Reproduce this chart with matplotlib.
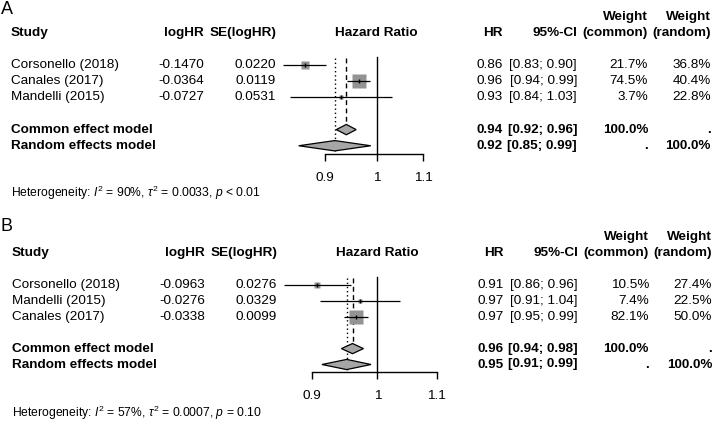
import numpy as np
import matplotlib
matplotlib.use("Agg")
import matplotlib.pyplot as plt
from matplotlib import transforms
from matplotlib.ticker import FixedLocator, FixedFormatter, NullLocator

plt.rcParams['font.family'] = ['Liberation Sans', 'DejaVu Sans']
plt.rcParams['mathtext.fontset'] = 'custom'
plt.rcParams['mathtext.rm'] = 'Liberation Sans'
plt.rcParams['mathtext.it'] = 'Liberation Sans:italic'
plt.rcParams['mathtext.bf'] = 'Liberation Sans:bold'

# ---------------- data ----------------
A_studies = ["Corsonello (2018)", "Canales (2017)", "Mandelli (2015)"]
A_loghr = [-0.1470, -0.0364, -0.0727]
A_se = [0.0220, 0.0119, 0.0531]
A_hr_lbl = ["0.86", "0.96", "0.93"]
A_ci_lbl = ["[0.83; 0.90]", "[0.94; 0.99]", "[0.84; 1.03]"]
A_wc = [21.7, 74.5, 3.7]
A_wr = [36.8, 40.4, 22.8]
A_common = [0.940, 0.921, 0.959]
A_random = [0.918, 0.853, 0.988]
A_common_lbl = ["0.94", "[0.92; 0.96]"]
A_random_lbl = ["0.92", "[0.85; 0.99]"]
A_het = r"Heterogeneity: $I^2$ = 90%, $\tau^2$ = 0.0033, $p$ < 0.01"

B_studies = ["Corsonello (2018)", "Mandelli (2015)", "Canales (2017)"]
B_loghr = [-0.0963, -0.0276, -0.0338]
B_se = [0.0276, 0.0329, 0.0099]
B_hr_lbl = ["0.91", "0.97", "0.97"]
B_ci_lbl = ["[0.86; 0.96]", "[0.91; 1.04]", "[0.95; 0.99]"]
B_wc = [10.5, 7.4, 82.1]
B_wr = [27.4, 22.5, 50.0]
B_common = [0.961, 0.944, 0.978]
B_random = [0.952, 0.915, 0.990]
B_common_lbl = ["0.96", "[0.94; 0.98]"]
B_random_lbl = ["0.95", "[0.91; 0.99]"]
B_het = r"Heterogeneity: $I^2$ = 57%, $\tau^2$ = 0.0007, $p$ = 0.10"

ticks = [0.9, 1.0, 1.1]
tick_labels = ["0.9", "1", "1.1"]

W, H = 716, 425
fig = plt.figure(figsize=(W / 100, H / 100), dpi=100)

FS = 9.7
SQ_COL = "#939393"
DIA_COL = "#a6a6a6"


def panel(letter, letter_y, studies, loghr, se, hr_lbl, ci_lbl, wc, wr,
          common, random, common_lbl, random_lbl, het,
          row0, spacing, ax_left, ax_width, xlim, het_y, dx):
    y_bottom = 5.48
    y_top = -0.55
    top_px = row0 + y_top * spacing
    bot_px = row0 + y_bottom * spacing
    ax = fig.add_axes([ax_left / W, 1 - bot_px / H, ax_width / W, (bot_px - top_px) / H])
    ax.set_xscale('log')
    ax.set_xlim(*xlim)
    ax.set_ylim(y_bottom, y_top)
    for s in ['top', 'right', 'left']:
        ax.spines[s].set_visible(False)
    ax.spines['bottom'].set_bounds(ticks[0], ticks[-1])
    ax.spines['bottom'].set_linewidth(1.0)
    ax.patch.set_alpha(0)
    ax.xaxis.set_major_locator(FixedLocator(ticks))
    ax.xaxis.set_major_formatter(FixedFormatter(tick_labels))
    ax.xaxis.set_minor_locator(NullLocator())
    ax.tick_params(axis='x', direction='out', length=5.2, width=1.0, pad=8.0, labelsize=FS)
    ax.set_yticks([])

    ys = np.arange(len(studies))
    lo = np.exp(np.array(loghr) - 1.96 * np.array(se))
    hi = np.exp(np.array(loghr) + 1.96 * np.array(se))
    est = np.exp(np.array(loghr))
    for i in range(len(studies)):
        side_pt = 1.56 * np.sqrt(wc[i]) * 0.72
        ax.plot([est[i]], [ys[i]], marker='s', ms=side_pt, color=SQ_COL, mec='none', zorder=2)
        ax.plot([lo[i], hi[i]], [ys[i], ys[i]], color='black', lw=0.9, zorder=3, solid_capstyle='butt')
        ax.plot([est[i]], [ys[i]], marker='|', ms=3.0, mew=1.0, color='black', zorder=4)

    yc, yr = 4, 5
    h = 0.32
    # reference lines
    ax.plot([1, 1], [-0.52, y_bottom], color='black', lw=1.0, zorder=1, clip_on=False)
    ax.plot([common[0], common[0]], [-0.45, yc - h], color='black', lw=1.0,
            ls=(0, (3.5, 2.5)), zorder=1, clip_on=False)
    ax.plot([random[0], random[0]], [-0.45, y_bottom - 0.15], color='black', lw=1.0,
            ls=(0, (1, 2)), zorder=1, clip_on=False)
    # diamonds
    ax.fill([common[1], common[0], common[2], common[0]], [yc, yc - h, yc, yc + h],
            facecolor=DIA_COL, edgecolor='black', lw=0.9, zorder=5)
    ax.fill([random[1], random[0], random[2], random[0]], [yr, yr - h, yr, yr + h],
            facecolor=DIA_COL, edgecolor='black', lw=0.9, zorder=5)

    tr = transforms.blended_transform_factory(fig.transFigure, ax.transData)

    def T(x, y, s, ha='right', bold=False, va='center'):
        fig.text((x + dx) / W, y, s, transform=tr, ha=ha, va=va, fontsize=FS,
                 fontweight='bold' if bold else 'normal')

    x_study, x_lhr, x_se, x_hrc = 11, 204, 276, 376.5
    x_hr, x_ci, x_wc, x_wr = 503, 577, 648, 711
    # headers
    T(x_study, -2, "Study", ha='left', bold=True)
    T(x_lhr, -2, "logHR", bold=True)
    T(x_se, -2, "SE(logHR)", bold=True)
    T(x_hrc, -2, "Hazard Ratio", ha='center', bold=True)
    T(x_hr, -2, "HR", bold=True)
    T(x_ci, -2, "95%-CI", bold=True)
    T(x_wc, -3, "Weight", bold=True)
    T(x_wc, -2, "(common)", bold=True)
    T(x_wr, -3, "Weight", bold=True)
    T(x_wr, -2, "(random)", bold=True)
    for i in range(len(studies)):
        T(x_study, ys[i], studies[i], ha='left')
        T(x_lhr, ys[i], f"{loghr[i]:.4f}")
        T(x_se, ys[i], f"{se[i]:.4f}")
        T(x_hr, ys[i], hr_lbl[i])
        T(x_ci, ys[i], ci_lbl[i])
        T(x_wc, ys[i], f"{wc[i]:.1f}%")
        T(x_wr, ys[i], f"{wr[i]:.1f}%")
    T(x_study, yc, "Common effect model", ha='left', bold=True)
    T(x_hr, yc, common_lbl[0], bold=True)
    T(x_ci, yc, common_lbl[1], bold=True)
    T(x_wc, yc, "100.0%", bold=True)
    T(x_wr, yc, ".", bold=True)
    T(x_study, yr, "Random effects model", ha='left', bold=True)
    T(x_hr, yr, random_lbl[0], bold=True)
    T(x_ci, yr, random_lbl[1], bold=True)
    T(x_wc, yr, ".", bold=True)
    T(x_wr, yr, "100.0%", bold=True)

    fig.text((x_study + dx) / W, 1 - het_y / H, het, ha='left', va='center', fontsize=8.7)
    fig.text(1.0 / W, 1 - letter_y / H, letter, ha='left', va='center', fontsize=13)
    return ax


panel("A", 10, A_studies, A_loghr, A_se, A_hr_lbl, A_ci_lbl, A_wc, A_wr,
      A_common, A_random, A_common_lbl, A_random_lbl, A_het,
      row0=65.0, spacing=16.15, ax_left=267.2, ax_width=178.1, xlim=(0.8, 1.15),
      het_y=193, dx=0)
panel("B", 227, B_studies, B_loghr, B_se, B_hr_lbl, B_ci_lbl, B_wc, B_wr,
      B_common, B_random, B_common_lbl, B_random_lbl, B_het,
      row0=285.0, spacing=15.9, ax_left=268.7, ax_width=184.7, xlim=(0.84, 1.13),
      het_y=413, dx=1)

fig.savefig("out.png", dpi=100)
